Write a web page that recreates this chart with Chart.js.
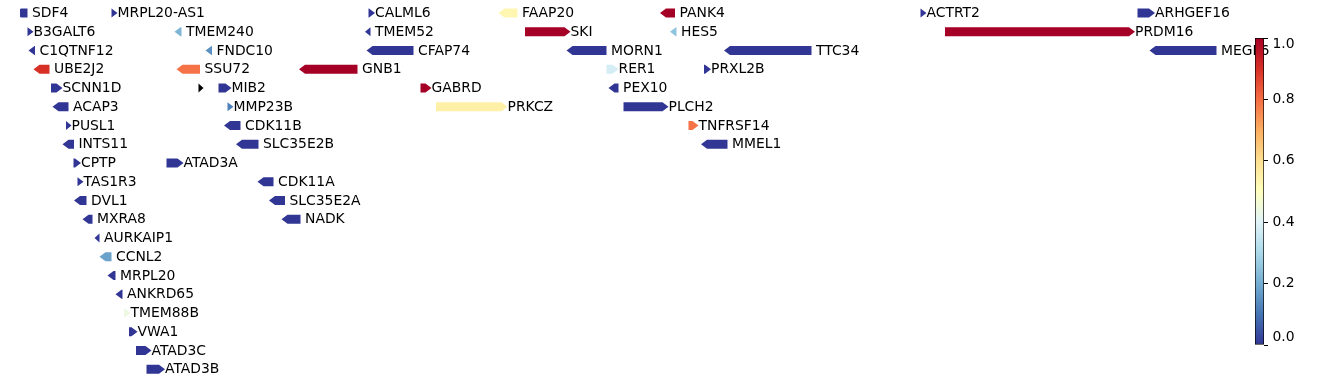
<!DOCTYPE html>
<html>
<head>
<meta charset="utf-8">
<script src="https://cdn.jsdelivr.net/npm/chart.js@4"></script>
<style>
  body { margin: 0; background: #fff; }
  #wrap { position: relative; width: 1338px; height: 383px; }
  #genes { position: absolute; left: 0; top: 0; }
  #cbar { position: absolute; left: 1240px; top: 0; }
</style>
</head>
<body>
<div id="wrap">
  <canvas id="genes" width="1338" height="383"></canvas>
  <canvas id="cbar" width="98" height="383"></canvas>
</div>
<script>
// --- Gene track data (positions in kb) ---
const geneNames = [
    'SDF4', 'MRPL20-AS1', 'CALML6', 'FAAP20', 'PANK4', 'ACTRT2', 'ARHGEF16',
    'B3GALT6', 'TMEM240', 'TMEM52', 'SKI', 'HES5', 'PRDM16',
    'C1QTNF12', 'FNDC10', 'CFAP74', 'MORN1', 'TTC34', 'MEGF6',
    'UBE2J2', 'SSU72', 'GNB1', 'RER1', 'PRXL2B',
    'SCNN1D', '', 'MIB2', 'GABRD', 'PEX10',
    'ACAP3', 'MMP23B', 'PRKCZ', 'PLCH2',
    'PUSL1', 'CDK11B', 'TNFRSF14',
    'INTS11', 'SLC35E2B', 'MMEL1',
    'CPTP', 'ATAD3A',
    'TAS1R3', 'CDK11A',
    'DVL1', 'SLC35E2A',
    'MXRA8', 'NADK',
    'AURKAIP1', 'CCNL2', 'MRPL20', 'ANKRD65', 'TMEM88B', 'VWA1', 'ATAD3C', 'ATAD3B'
];
const geneStart = [
    1190, 1383, 1897, 2157, 2480, 3001, 3435,
    1215, 1509, 1890, 2210, 2500, 3050,
    1217, 1571, 1893, 2293, 2608, 3459,
    1227, 1513, 1758, 2373, 2568,
    1262, 1557, 1597, 2001, 2377,
    1265, 1615, 2032, 2407,
    1292, 1608, 2537,
    1285, 1632, 2562,
    1307, 1493,
    1315, 1675,
    1308, 1698,
    1325, 1723,
    1349, 1359, 1375, 1391, 1408, 1418, 1432, 1453
];
const geneEnd = [
    1215, 1395, 1910, 2195, 2510, 3013, 3470,
    1227, 1523, 1901, 2301, 2513, 3430,
    1230, 1584, 1987, 2373, 2783, 3593,
    1259, 1560, 1875, 2397, 2582,
    1285, 1567, 1623, 2023, 2397,
    1297, 1627, 2175, 2497,
    1303, 1641, 2557,
    1308, 1677, 2615,
    1322, 1527,
    1327, 1707,
    1333, 1730,
    1345, 1761,
    1359, 1383, 1391, 1405, 1421, 1435, 1463, 1490
];
const geneStrand = [
    -1, 1, 1, -1, -1, 1, 1,
    1, -1, -1, 1, -1, 1,
    -1, -1, -1, -1, -1, -1,
    -1, -1, -1, 1, 1,
    1, 1, 1, 1, -1,
    -1, 1, 1, 1,
    1, -1, 1,
    -1, -1, -1,
    1, 1,
    1, -1,
    -1, -1,
    -1, -1,
    -1, -1, -1, -1, 1, 1, 1, 1
];
const geneRow = [
    0, 0, 0, 0, 0, 0, 0,
    1, 1, 1, 1, 1, 1,
    2, 2, 2, 2, 2, 2,
    3, 3, 3, 3, 3,
    4, 4, 4, 4, 4,
    5, 5, 5, 5,
    6, 6, 6,
    7, 7, 7,
    8, 8,
    9, 9,
    10, 10,
    11, 11,
    12, 13, 14, 15, 16, 17, 18, 19
];
const geneScore = [
    0, 0, 0, 0.53, 1, 0, 0,
    0, 0.22, 0, 1, 0.25, 1,
    0, 0.15, 0, 0, 0, 0,
    0.9, 0.79, 1, 0.38, 0,
    0, null, 0, 1, 0,
    0, 0.12, 0.55, 0,
    0, 0, 0.79,
    0, 0, 0,
    0, 0,
    0, 0,
    0, 0,
    0, 0,
    0, 0.18, 0, 0, 0.44, 0, 0, 0
];

// --- Colorbar data ---
const cbTicks = [0.0, 0.2, 0.4, 0.6, 0.8, 1.0];

// RdYlBu_r anchor colours
const RDYLBU_R = ['#313695', '#4575b4', '#74add1', '#abd9e9', '#e0f3f8', '#ffffbf',
                  '#fee090', '#fdae61', '#f46d43', '#d73027', '#a50026'];
const FONT = '13.9px "DejaVu Sans"';
const HEAD_PX = 6;

function hexToRgb(h) {
    return [parseInt(h.slice(1, 3), 16), parseInt(h.slice(3, 5), 16), parseInt(h.slice(5, 7), 16)];
}

function colorFor(v) {
    if (v === null || v === undefined) return '#000000';
    const t = Math.max(0, Math.min(1, v)) * (RDYLBU_R.length - 1);
    const i = Math.min(Math.floor(t), RDYLBU_R.length - 2);
    const f = t - i;
    const a = hexToRgb(RDYLBU_R[i]), b = hexToRgb(RDYLBU_R[i + 1]);
    const c = a.map((x, k) => Math.round(x + (b[k] - x) * f));
    return `rgb(${c[0]},${c[1]},${c[2]})`;
}

/**
 * Draws each floating bar as a stranded arrow with its gene label.
 */
const geneArrows = {
    id: 'geneArrows',
    afterDatasetsDraw(chart) {
        const { ctx, chartArea } = chart;
        const bars = chart.getDatasetMeta(0).data;
        ctx.save();
        ctx.font = FONT;
        ctx.textBaseline = 'middle';
        ctx.textAlign = 'left';
        bars.forEach((bar, i) => {
            const { x, base, y, height } = bar.getProps(['x', 'base', 'y', 'height'], true);
            const left = Math.min(x, base), right = Math.max(x, base);
            const top = y - height / 2, bottom = y + height / 2;
            const head = Math.min(HEAD_PX, right - left);

            ctx.save();
            ctx.beginPath();
            ctx.rect(chartArea.left, 0, chartArea.right - chartArea.left, chart.height);
            ctx.clip();
            ctx.beginPath();
            if (geneStrand[i] > 0) {
                ctx.moveTo(left, top);
                ctx.lineTo(right - head, top);
                ctx.lineTo(right, y);
                ctx.lineTo(right - head, bottom);
                ctx.lineTo(left, bottom);
            } else {
                ctx.moveTo(right, top);
                ctx.lineTo(left + head, top);
                ctx.lineTo(left, y);
                ctx.lineTo(left + head, bottom);
                ctx.lineTo(right, bottom);
            }
            ctx.closePath();
            ctx.fillStyle = colorFor(geneScore[i]);
            ctx.fill();
            ctx.restore();

            if (geneNames[i]) {
                ctx.fillStyle = '#000';
                ctx.fillText(geneNames[i], right + (geneStrand[i] > 0 ? 0 : 4.5), y + 0.5);
            }
        });
        ctx.restore();
    }
};

new Chart(document.getElementById('genes'), {
    type: 'bar',
    data: {
        datasets: [{
            data: geneNames.map((n, i) => ({ x: [geneStart[i], geneEnd[i]], y: geneRow[i] })),
            backgroundColor: 'rgba(0,0,0,0)',
            borderWidth: 0,
            barThickness: 9
        }]
    },
    options: {
        indexAxis: 'y',
        responsive: false,
        devicePixelRatio: 1,
        animation: false,
        layout: { padding: { left: 20, right: 100, top: 0, bottom: 0 } },
        plugins: { legend: { display: false }, tooltip: { enabled: false } },
        scales: {
            x: { type: 'linear', min: 1200, max: 3636, display: false },
            y: { type: 'linear', min: -0.7, max: 19.74, reverse: true, offset: false, display: false }
        }
    },
    plugins: [geneArrows]
});

/**
 * Colorbar tick labels, kept inside the bar's extent at both ends.
 */
const cbLabels = {
    id: 'cbLabels',
    afterDraw(chart) {
        const { ctx } = chart;
        const y = chart.scales.y;
        ctx.save();
        ctx.font = FONT;
        ctx.fillStyle = '#000';
        ctx.textBaseline = 'middle';
        ctx.textAlign = 'left';
        cbTicks.forEach(v => {
            let py = y.getPixelForValue(v);
            py = Math.min(Math.max(py, y.top + 6), y.bottom - 8);
            ctx.fillText(v.toFixed(1), y.left + 8.5, py);
        });
        ctx.restore();
    }
};

new Chart(document.getElementById('cbar'), {
    type: 'bar',
    data: {
        labels: [''],
        datasets: [{
            data: [[0, 1]],
            backgroundColor: (c) => {
                const { ctx, chartArea } = c.chart;
                if (!chartArea) return null;
                const g = ctx.createLinearGradient(0, chartArea.bottom, 0, chartArea.top);
                RDYLBU_R.forEach((col, k) => g.addColorStop(k / (RDYLBU_R.length - 1), col));
                return g;
            },
            borderColor: '#000',
            borderWidth: 1,
            borderSkipped: false,
            barPercentage: 1,
            categoryPercentage: 1
        }]
    },
    options: {
        responsive: false,
        devicePixelRatio: 1,
        animation: false,
        layout: { padding: { left: 15, top: 38, bottom: 38, right: 0 } },
        plugins: { legend: { display: false }, tooltip: { enabled: false } },
        scales: {
            x: { display: false },
            y: {
                position: 'right',
                min: 0,
                max: 1,
                afterFit: (axis) => { axis.width = 74; },
                afterBuildTicks: (axis) => { axis.ticks = cbTicks.map(v => ({ value: v })); },
                grid: { drawOnChartArea: false, drawTicks: true, tickLength: 4, color: '#000' },
                border: { display: false },
                ticks: { display: false }
            }
        }
    },
    plugins: [cbLabels]
});
</script>
</body>
</html>
